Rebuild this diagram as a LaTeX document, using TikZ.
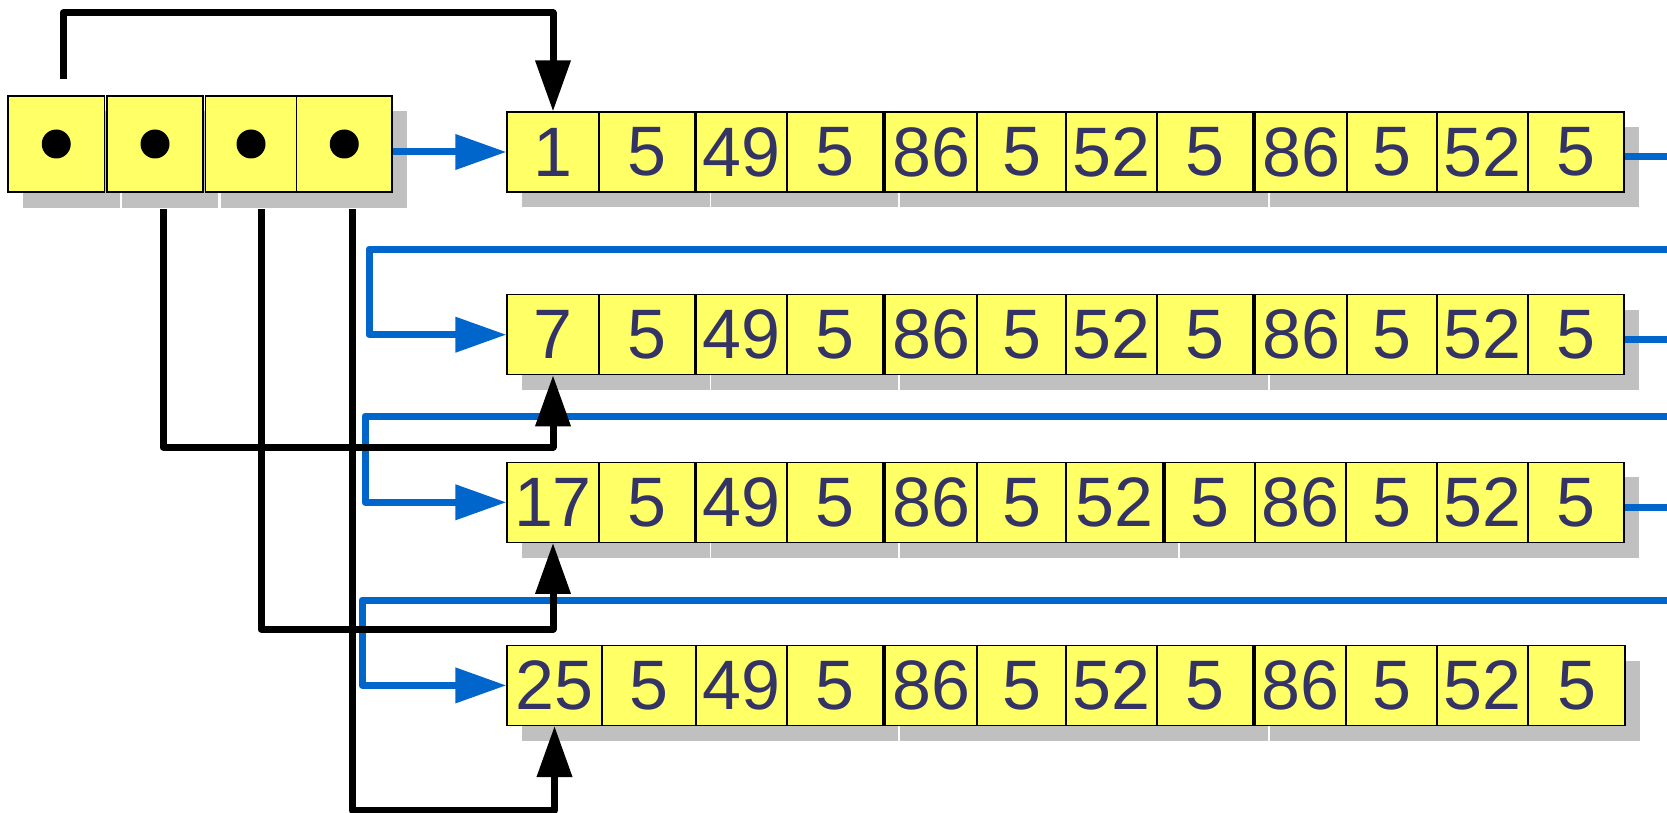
\documentclass[tikz,border=0pt]{standalone}
\usepackage{fontspec}
\newfontfamily\cellfont{Liberation Sans}
\usetikzlibrary{arrows.meta,calc}
\definecolor{cellyel}{HTML}{FFFF66}
\definecolor{cellink}{HTML}{333366}
\definecolor{shadegray}{HTML}{C0C0C0}
\definecolor{linkblue}{HTML}{0066CC}
\begin{document}
\begin{tikzpicture}[x=1pt, y=-1pt,
  cell/.style={rectangle, draw=black, line width=1.2pt, fill=cellyel, inner sep=0pt,
    minimum height=80pt, text=cellink, font=\cellfont\fontsize{70}{70}\selectfont},
  hdcell/.style={cell, minimum height=96pt},
  dropshadow/.style={fill=shadegray},
  hdot/.style={fill=black},
  flow/.style={linkblue, line width=7pt, line join=round,
    -{Triangle[length=51pt, width=34pt]}},
  outflow/.style={linkblue, line width=7pt},
  ptr/.style={black, line width=7pt, line join=round,
    -{Triangle[length=51pt, width=34pt]}}]
\useasboundingbox (0,0) rectangle (1667,813);
% ---------------- header: four pointer cells ----------------
\fill[dropshadow] (23,111) rectangle (119.5,208);
\fill[dropshadow] (122,111) rectangle (218,208);
\fill[dropshadow] (220.5,111) rectangle (407,208);
\foreach \xa/\xb [count=\i] in {8/104.5, 107/203, 205.5/296.5, 296.5/392} {
  \node[hdcell, minimum width={(\xb-\xa)*1pt}] (hd\i) at ({(\xa+\xb)/2},144) {};
  \fill[hdot] (hd\i.center) circle (14.5);
}
% ---------------- row 1 ----------------
\foreach \xa/\xb in {507/695, 696/883, 885/1253, 1255/1624}
  \fill[dropshadow] ({\xa+15},127) rectangle ({\xb+15},207);
\foreach \xa/\xb/\lbl [count=\i] in {507/599/1, 599/695/5, 696/787/49, 787/883/5,
    885/977/86, 977/1066/5, 1066/1157/52, 1157/1253/5,
    1255/1347/86, 1347/1437/5, 1437/1528/52, 1528/1624/5}
  \node[cell, minimum width={(\xb-\xa)*1pt}] (r1c\i) at ({(\xa+\xb)/2},152) {\lbl};
% ---------------- row 2 ----------------
\foreach \xa/\xb in {507/695, 696/883, 885/1253, 1255/1624}
  \fill[dropshadow] ({\xa+15},310) rectangle ({\xb+15},389.5);
\foreach \xa/\xb/\lbl [count=\i] in {507/599/7, 599/695/5, 696/787/49, 787/883/5,
    885/977/86, 977/1066/5, 1066/1157/52, 1157/1253/5,
    1255/1347/86, 1347/1437/5, 1437/1528/52, 1528/1624/5}
  \node[cell, minimum width={(\xb-\xa)*1pt}] (r2c\i) at ({(\xa+\xb)/2},334.7) {\lbl};
% ---------------- row 3 ----------------
\foreach \xa/\xb in {507/695, 696/883, 885/1163, 1165/1624}
  \fill[dropshadow] ({\xa+15},477) rectangle ({\xb+15},557.5);
\foreach \xa/\xb/\lbl [count=\i] in {507/599/17, 599/695/5, 696/787/49, 787/883/5,
    885/977/86, 977/1066/5, 1066/1163/52, 1165/1255/5,
    1255/1346/86, 1346/1437/5, 1437/1528/52, 1528/1624/5}
  \node[cell, minimum width={(\xb-\xa)*1pt}] (r3c\i) at ({(\xa+\xb)/2},502.3) {\lbl};
% ---------------- row 4 ----------------
\foreach \xa/\xb in {507/883, 885/1253, 1255/1625}
  \fill[dropshadow] ({\xa+15},661) rectangle ({\xb+15},740.5);
\foreach \xa/\xb/\lbl [count=\i] in {507/602/25, 602/696/5, 696/787/49, 787/883/5,
    885/977/86, 977/1066/5, 1066/1157/52, 1157/1253/5,
    1255/1346/86, 1346/1437/5, 1437/1528/52, 1528/1625/5}
  \node[cell, minimum width={(\xb-\xa)*1pt}] (r4c\i) at ({(\xa+\xb)/2},685.4) {\lbl};
% ---------------- blue links between rows ----------------
\coordinate (out1) at ($(r1c12.east)+(60,5)$);
\coordinate (out2) at ($(r2c12.east)+(60,5)$);
\coordinate (out3) at ($(r3c12.east)+(60,5)$);
\coordinate (in2) at (1680,249);
\coordinate (in3) at (1680,416);
\coordinate (in4) at (1680,600);
\draw[flow] (hd4.east |- r1c1.west) -- (r1c1.west);
\draw[outflow] ($(r1c12.east)+(0,5)$) -- (out1);
\draw[outflow] ($(r2c12.east)+(0,5)$) -- (out2);
\draw[outflow] ($(r3c12.east)+(0,5)$) -- (out3);
\draw[flow] (in2) -- (369,249) |- (r2c1.west);
\draw[flow] (in3) -- (365,416) |- (r3c1.west);
\draw[flow] (in4) -- (362,600) |- (r4c1.west);
% ---------------- black pointers from the header ----------------
\coordinate (src1) at (63,79);
\coordinate (src2) at (163,209);
\coordinate (src3) at (261,209);
\coordinate (src4) at (352,209);
\draw[ptr] (src1) -- (63,13) -| (r1c1.north);
\draw[ptr] (src2) -- (163,447) -| (r2c1.south);
\draw[ptr] (src3) -- (261,629) -| (r3c1.south);
\draw[ptr] (src4) -- (352,810) -| (r4c1.south);
\end{tikzpicture}
\end{document}
